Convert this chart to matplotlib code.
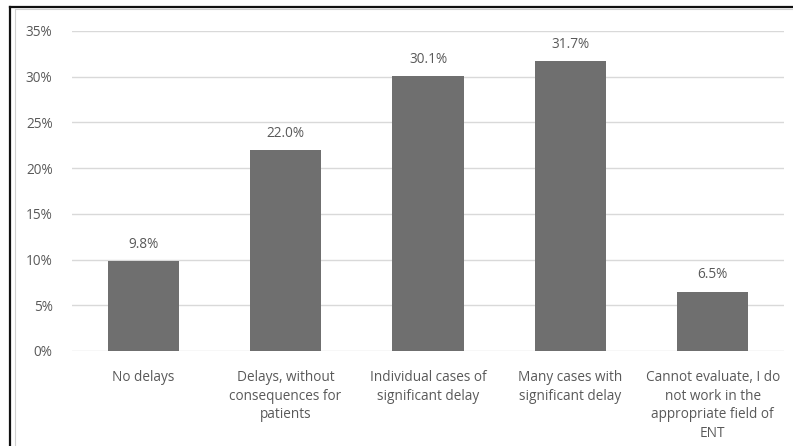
import matplotlib.pyplot as plt
from matplotlib.lines import Line2D
from matplotlib.ticker import PercentFormatter

# Survey answers on treatment delays
categories = [
    "No delays",
    "Delays, without\nconsequences for\npatients",
    "Individual cases of\nsignificant delay",
    "Many cases with\nsignificant delay",
    "Cannot evaluate, I do\nnot work in the\nappropriate field of\nENT",
]
shares = [9.8, 22.0, 30.1, 31.7, 6.5]
y_ticks = [0, 5, 10, 15, 20, 25, 30, 35]

BAR_COLOR = "#6f6f6f"
TEXT_COLOR = "#595959"
GRID_COLOR = "#d9d9d9"

plt.rcParams["font.family"] = ["Open Sans", "DejaVu Sans"]

W, H = 793, 446
fig = plt.figure(figsize=(W / 100, H / 100), dpi=100, facecolor="white")

# plot area in pixel terms: x 72..784, y 31..351
left, right, top, bottom = 72, 784, 31, 351
ax = fig.add_axes([left / W, 1 - bottom / H, (right - left) / W, (bottom - top) / H])

x = range(len(categories))
ax.bar(x, shares, width=0.5, color=BAR_COLOR, zorder=3)
for xi, v in zip(x, shares):
    ax.text(xi, v + 1.0, f"{v:.1f}%", ha="center", va="bottom",
            fontsize=9.8, color=TEXT_COLOR)

ax.set_xlim(-0.5, len(categories) - 0.5)
ax.set_ylim(0, 35)
ax.set_yticks(y_ticks)
ax.yaxis.set_major_formatter(PercentFormatter(decimals=0))
ax.set_xticks(list(x))
ax.set_xticklabels(categories, fontsize=9.8, color=TEXT_COLOR, linespacing=1.32, va="top")
ax.tick_params(axis="y", labelsize=9.8, labelcolor=TEXT_COLOR, length=0, pad=14)
ax.tick_params(axis="x", length=0, pad=14)
ax.grid(True, axis="y", color=GRID_COLOR, linewidth=1, zorder=0)
for s in ax.spines.values():
    s.set_visible(False)

# frame edges around the chart
def px_line(x0, y0, x1, y1, color, lw):
    fig.add_artist(Line2D([x0 / W, x1 / W], [1 - y0 / H, 1 - y1 / H],
                          transform=fig.transFigure, color=color, linewidth=lw))

px_line(9.5, 7, W, 7, "#111111", 1.6)
px_line(9.5, 7, 9.5, H, "#111111", 1.6)
px_line(15, 9, W, 9, "#d0d0d0", 0.8)
px_line(15, 9, 15, H, "#d0d0d0", 0.8)

fig.savefig("out.png", dpi=100, facecolor="white")
